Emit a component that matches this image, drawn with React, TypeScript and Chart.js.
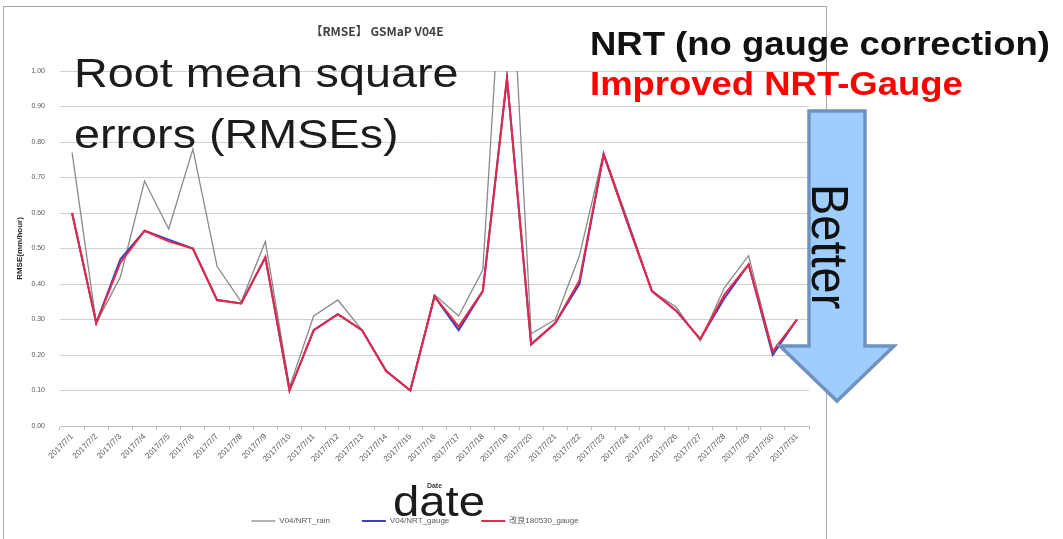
import React, { useEffect, useRef } from "react";
import { Chart, registerables } from "chart.js";

Chart.register(...registerables);

const dates = [
  "2017/7/1", "2017/7/2", "2017/7/3", "2017/7/4", "2017/7/5", "2017/7/6", "2017/7/7", "2017/7/8",
  "2017/7/9", "2017/7/10", "2017/7/11", "2017/7/12", "2017/7/13", "2017/7/14", "2017/7/15", "2017/7/16",
  "2017/7/17", "2017/7/18", "2017/7/19", "2017/7/20", "2017/7/21", "2017/7/22", "2017/7/23", "2017/7/24",
  "2017/7/25", "2017/7/26", "2017/7/27", "2017/7/28", "2017/7/29", "2017/7/30", "2017/7/31",
];

const nrtRain = [
  0.77, 0.29, 0.42, 0.69, 0.555, 0.78, 0.45, 0.35, 0.52, 0.11, 0.31, 0.355, 0.27, 0.155, 0.1, 0.37,
  0.31, 0.44, 1.55, 0.26, 0.3, 0.48, 0.77, 0.58, 0.38, 0.335, 0.24, 0.39, 0.48, 0.21, 0.3,
];

const nrtGauge = [
  0.6, 0.29, 0.47, 0.55, 0.525, 0.5, 0.355, 0.345, 0.475, 0.1, 0.27, 0.315, 0.27, 0.155, 0.1, 0.365,
  0.27, 0.38, 0.98, 0.23, 0.29, 0.4, 0.765, 0.57, 0.38, 0.325, 0.245, 0.36, 0.455, 0.2, 0.3,
];

const improvedGauge = [
  0.6, 0.29, 0.46, 0.55, 0.52, 0.5, 0.355, 0.345, 0.475, 0.1, 0.27, 0.315, 0.27, 0.155, 0.1, 0.365,
  0.28, 0.38, 0.98, 0.23, 0.29, 0.41, 0.765, 0.57, 0.38, 0.325, 0.245, 0.37, 0.455, 0.21, 0.3,
];

const seriesNames = ["V04/NRT_rain", "V04/NRT_gauge", "改良180530_gauge"];
const seriesColors = ["#8a8a8a", "#3c3cc6", "#e62846"];

const Y_MIN = 0;
const Y_MAX = 1;
const Y_STEP = 0.1;

const chartTitle = "【RMSE】 GSMaP V04E";
const yAxisTitle = "RMSE(mm/hour)";
const xAxisTitle = "Date";

const FONT = "'Liberation Sans', 'Noto Sans CJK JP', Arial, sans-serif";

export default function App() {
  const canvasRef = useRef<HTMLCanvasElement | null>(null);

  useEffect(() => {
    const canvas = canvasRef.current;
    if (!canvas) return;
    const chart = new Chart(canvas, {
      type: "line",
      data: {
        labels: dates,
        datasets: [
          {
            label: seriesNames[0],
            data: nrtRain,
            borderColor: seriesColors[0],
            backgroundColor: seriesColors[0],
            borderWidth: 1.3,
            pointRadius: 0,
            tension: 0,
            order: 2,
          },
          {
            label: seriesNames[1],
            data: nrtGauge,
            borderColor: seriesColors[1],
            backgroundColor: seriesColors[1],
            borderWidth: 2,
            pointRadius: 0,
            tension: 0,
            order: 1,
          },
          {
            label: seriesNames[2],
            data: improvedGauge,
            borderColor: seriesColors[2],
            backgroundColor: seriesColors[2],
            borderWidth: 2,
            pointRadius: 0,
            tension: 0,
            order: 0,
          },
        ],
      },
      options: {
        responsive: false,
        animation: false,
        events: [],
        layout: { padding: { left: 17, right: 17, top: 64, bottom: 4 } },
        plugins: {
          title: { display: false },
          tooltip: { enabled: false },
          legend: {
            display: true,
            position: "bottom",
            labels: {
              usePointStyle: true,
              pointStyle: "line",
              pointStyleWidth: 24,
              font: { family: FONT, size: 8 },
              color: "#595959",
              padding: 32,
              sort: (a: any, b: any) => a.datasetIndex - b.datasetIndex,
            },
          },
        },
        scales: {
          x: {
            type: "category",
            offset: true,
            afterFit: (s: any) => {
              s.height = 59;
            },
            grid: {
              display: true,
              drawOnChartArea: false,
              drawTicks: true,
              tickLength: 4,
              offset: true,
              color: "#bfbfbf",
            },
            border: { display: true, color: "#bfbfbf" },
            ticks: {
              autoSkip: false,
              minRotation: 45,
              maxRotation: 45,
              font: { family: FONT, size: 8 },
              color: "#595959",
              padding: 2,
            },
            title: {
              display: true,
              text: xAxisTitle,
              font: { family: FONT, size: 7, weight: "bold" },
              color: "#404040",
              padding: { top: 0, bottom: -5 },
            },
          },
          y: {
            min: Y_MIN,
            max: Y_MAX,
            afterFit: (s: any) => {
              s.width = 39;
            },
            ticks: {
              stepSize: Y_STEP,
              callback: (v: any) => Number(v).toFixed(2),
              font: { family: FONT, size: 7 },
              color: "#595959",
              padding: 15,
            },
            grid: { color: "#d0d0d0", drawTicks: false },
            border: { display: false },
            title: {
              display: true,
              text: yAxisTitle,
              font: { family: FONT, size: 8, weight: "bold" },
              color: "#262626",
              padding: { top: -6, bottom: 0 },
            },
          },
        },
      },
    });
    return () => chart.destroy();
  }, []);

  return (
    <div
      style={{
        position: "absolute",
        left: 0,
        top: 0,
        width: 1063,
        height: 539,
        overflow: "hidden",
        background: "#ffffff",
        fontFamily: FONT,
      }}
    >
      <div
        style={{
          position: "absolute",
          left: 3,
          top: 6,
          width: 824,
          height: 560,
          boxSizing: "border-box",
          border: "1px solid #a8a8a8",
        }}
      />
      <canvas
        ref={canvasRef}
        width={822}
        height={532}
        style={{ position: "absolute", left: 4, top: 7, width: 822, height: 532 }}
      />
      <div
        style={{
          position: "absolute",
          left: 277,
          top: 24,
          width: 200,
          textAlign: "center",
          fontFamily: "'Noto Sans CJK JP', sans-serif",
          fontWeight: "bold",
          fontSize: 12,
          lineHeight: "14px",
          color: "#404040",
          whiteSpace: "pre",
        }}
      >
        {chartTitle}
      </div>
      <div
        style={{
          position: "absolute",
          left: 74,
          top: 43,
          fontSize: 41,
          lineHeight: "61px",
          color: "#1c1c1c",
          whiteSpace: "pre",
          transform: "scaleX(1.14)",
          transformOrigin: "0 0",
        }}
      >
        {"Root mean square\nerrors (RMSEs)"}
      </div>
      <div
        style={{
          position: "absolute",
          left: 590,
          top: 24,
          fontSize: 33,
          fontWeight: "bold",
          lineHeight: "40px",
          whiteSpace: "pre",
          transform: "scaleX(1.105)",
          transformOrigin: "0 0",
        }}
      >
        <div style={{ color: "#111111" }}>NRT (no gauge correction)</div>
        <div style={{ color: "#ff0000" }}>Improved NRT-Gauge</div>
      </div>
      <div
        style={{
          position: "absolute",
          left: 393,
          top: 481,
          fontSize: 42,
          lineHeight: "42px",
          color: "#1c1c1c",
          whiteSpace: "pre",
          transform: "scaleX(1.125)",
          transformOrigin: "0 0",
        }}
      >
        date
      </div>
      <svg
        width={1063}
        height={539}
        style={{ position: "absolute", left: 0, top: 0 }}
      >
        <polygon
          points="809,111 865,111 865,346 894,346 837,401 780,346 809,346"
          fill="#9fcdfd"
          stroke="#7092be"
          strokeWidth={3.5}
          strokeLinejoin="miter"
        />
      </svg>
      <div
        style={{
          position: "absolute",
          left: 857,
          top: 184,
          fontSize: 47,
          lineHeight: "47px",
          color: "#111111",
          whiteSpace: "pre",
          transform: "scaleX(1.12) rotate(90deg)",
          transformOrigin: "0 0",
        }}
      >
        Better
      </div>
    </div>
  );
}
